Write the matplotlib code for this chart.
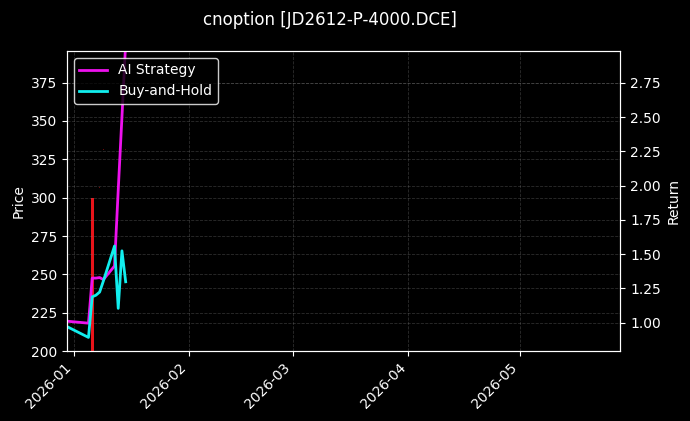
import numpy as np
import pandas as pd
import matplotlib
matplotlib.use('Agg')
import matplotlib.pyplot as plt
import matplotlib.dates as mdates

plt.style.use('dark_background')

# trading days shown on the chart
dates = pd.to_datetime(['2025-12-30', '2026-01-05', '2026-01-06', '2026-01-07',
                        '2026-01-08', '2026-01-09', '2026-01-12', '2026-01-13',
                        '2026-01-14', '2026-01-15'])

ai_ret = [1.011, 0.996, 1.325, 1.325, 1.329, 1.314, 1.413, 1.968, 2.50, 3.04]
bh_ret = [0.974, 0.892, 1.188, 1.200, 1.223, 1.303, 1.559, 1.104, 1.524, 1.298]

# price bars (open, close)
bar_dates = pd.to_datetime(['2026-01-06', '2026-01-08', '2026-01-09', '2026-01-15'])
bar_open = [300.0, 307.0, 332.0, 332.0]
bar_close = [150.0, 306.0, 331.0, 331.0]

fig, ax = plt.subplots(figsize=(6.9, 4.21), dpi=100)
fig.subplots_adjust(left=0.097, right=0.899, bottom=0.166, top=0.879)
fig.patch.set_facecolor('black')
ax.set_facecolor('black')

x_bar = mdates.date2num(bar_dates)
for xb, o, c in zip(x_bar, bar_open, bar_close):
    h = abs(o - c)
    big = h > 5
    ax.bar(xb, h, bottom=min(o, c), width=0.8 if big else 0.4,
           color='#e8141a' if big else '#6a0c0c', linewidth=0)

ax.set_ylim(200, 395.6)
ax.set_ylabel('Price')
ax.grid(True, linestyle='--', color='gray', alpha=0.35, linewidth=0.6)

ax2 = ax.twinx()
ax2.plot(dates, ai_ret, color='#ee11ee', lw=2, label='AI Strategy')
ax2.plot(dates, bh_ret, color='#11eeee', lw=2, label='Buy-and-Hold')
ax2.set_ylim(0.792, 2.983)
ax2.set_ylabel('Return')
ax2.grid(True, linestyle='--', color='gray', alpha=0.35, linewidth=0.6)

ax.set_xlim(pd.Timestamp('2025-12-30 05:00'), pd.Timestamp('2026-05-28'))
ax.xaxis.set_major_locator(mdates.MonthLocator())
ax.xaxis.set_major_formatter(mdates.DateFormatter('%Y-%m'))
plt.setp(ax.get_xticklabels(), rotation=45, ha='right')

leg = ax2.legend(loc='upper left', facecolor='black', edgecolor='white', framealpha=0.8)

fig.suptitle('cnoption [JD2612-P-4000.DCE]', fontsize=12, x=0.478, y=0.975)

fig.savefig('out.png', dpi=100, facecolor='black')
